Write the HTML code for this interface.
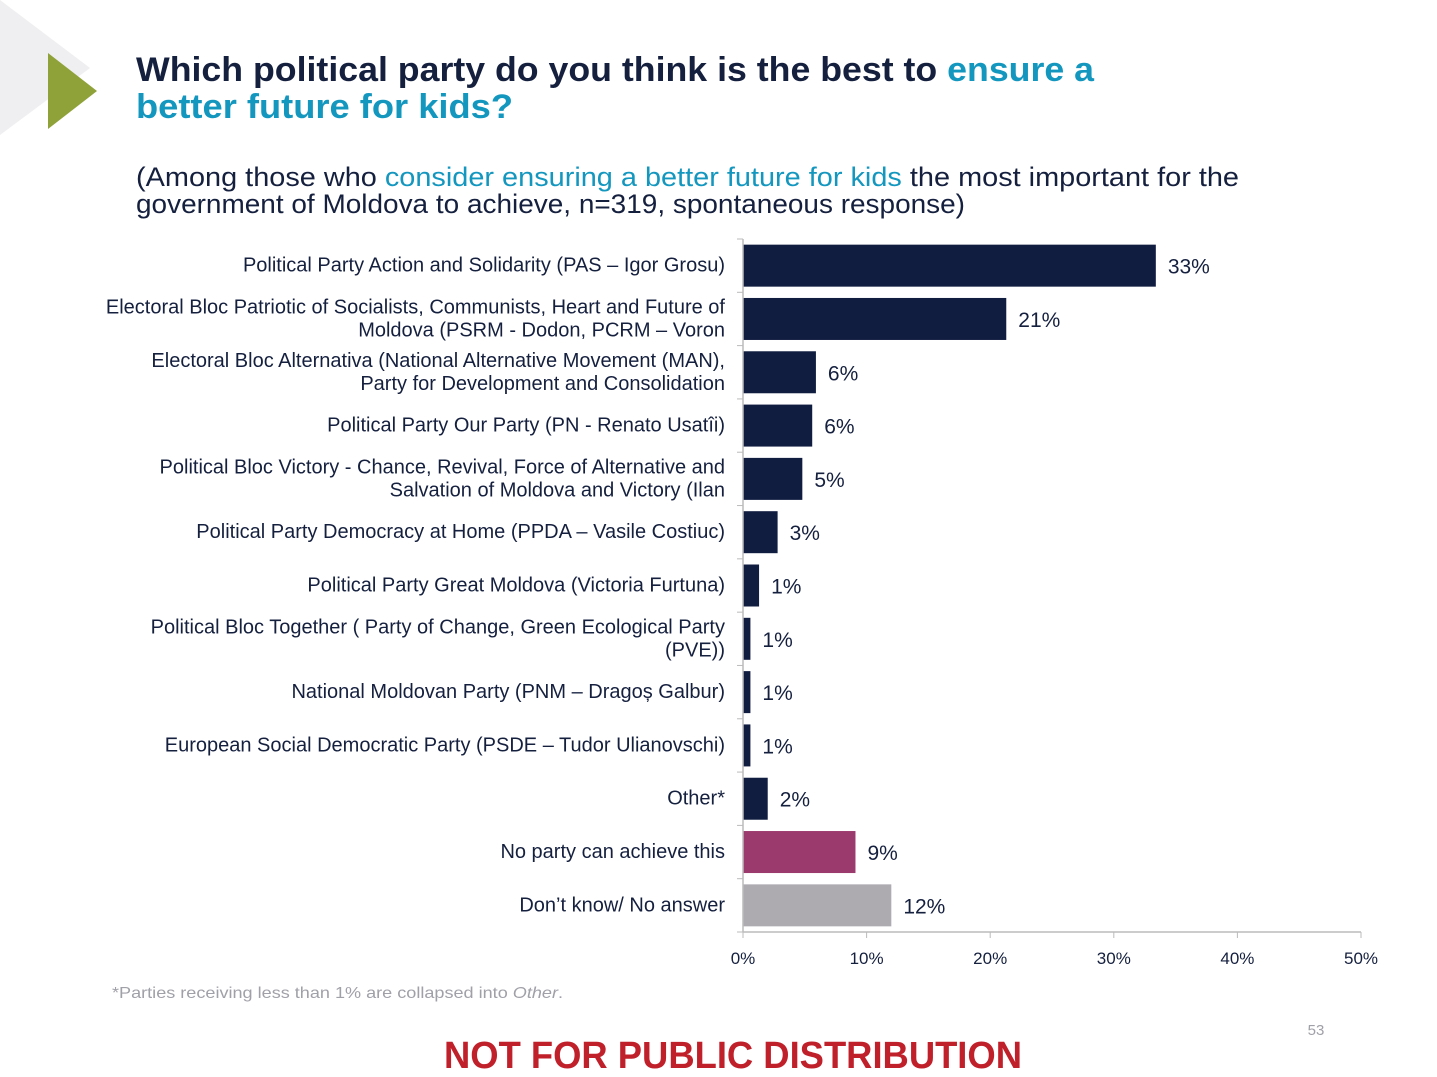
<!DOCTYPE html>
<html><head><meta charset="utf-8"><style>
html,body{margin:0;padding:0;background:#fff;}
svg{display:block;font-family:"Liberation Sans",sans-serif;}
</style></head><body>
<svg id="chart" width="1437" height="1077" viewBox="0 0 1437 1077" xmlns="http://www.w3.org/2000/svg">
<polygon points="0,0 90,68 0,135" fill="#efeff1"/>
<polygon points="48,53 97,91 48,129" fill="#8fa23a"/>
<text x="136" y="81" font-size="34" font-weight="bold" fill="#15203f" textLength="958" lengthAdjust="spacingAndGlyphs">Which political party do you think is the best to <tspan fill="#1497bf">ensure a</tspan></text>
<text x="136" y="118" font-size="34" font-weight="bold" fill="#1497bf" textLength="377" lengthAdjust="spacingAndGlyphs">better future for kids?</text>
<text x="136" y="186" font-size="27" fill="#15203f" textLength="1103" lengthAdjust="spacingAndGlyphs">(Among those who <tspan fill="#1497bf">consider ensuring a better future for kids</tspan> the most important for the</text>
<text x="136" y="213" font-size="27" fill="#15203f" textLength="829" lengthAdjust="spacingAndGlyphs">government of Moldova to achieve, n=319, spontaneous response)</text>
<g id="plot"></g>
<text x="112" y="998" font-size="16" fill="#a0a0a8" textLength="451" lengthAdjust="spacingAndGlyphs">*Parties receiving less than 1% are collapsed into <tspan font-style="italic">Other</tspan>.</text>
<text x="1316" y="1035" font-size="15" fill="#a0a0a8" text-anchor="middle">53</text>
<text x="733" y="1068" font-size="38" font-weight="bold" fill="#c0202a" text-anchor="middle" textLength="578" lengthAdjust="spacingAndGlyphs">NOT FOR PUBLIC DISTRIBUTION</text>
</svg>
<script>
const categories = [
 ["Political Party Action and Solidarity (PAS – Igor Grosu)"],
 ["Electoral Bloc Patriotic of Socialists, Communists, Heart and Future of","Moldova (PSRM - Dodon, PCRM – Voron"],
 ["Electoral Bloc Alternativa (National Alternative Movement (MAN),","Party for Development and Consolidation"],
 ["Political Party Our Party (PN - Renato Usatîi)"],
 ["Political Bloc Victory - Chance, Revival, Force of Alternative and","Salvation of Moldova and Victory (Ilan"],
 ["Political Party Democracy at Home (PPDA – Vasile Costiuc)"],
 ["Political Party Great Moldova (Victoria Furtuna)"],
 ["Political Bloc Together ( Party of Change, Green Ecological Party","(PVE))"],
 ["National Moldovan Party (PNM – Dragoș Galbur)"],
 ["European Social Democratic Party (PSDE – Tudor Ulianovschi)"],
 ["Other*"],
 ["No party can achieve this"],
 ["Don’t know/ No answer"]
];
const values = [33.4,21.3,5.9,5.6,4.8,2.8,1.3,0.6,0.6,0.6,2.0,9.1,12.0];
const valueLabels = ["33%","21%","6%","6%","5%","3%","1%","1%","1%","1%","2%","9%","12%"];
const barKinds = ["party","party","party","party","party","party","party","party","party","party","party","none","dk"];
const xTicks = [0,10,20,30,40,50];
const xTickLabels = ["0%","10%","20%","30%","40%","50%"];

const NS="http://www.w3.org/2000/svg";
const g=document.getElementById('plot');
const x0=743,x1=1361,xMax=50,yTop=239,yBot=932;
const band=(yBot-yTop)/categories.length;
const xs=v=>x0+(x1-x0)*v/xMax;
const yc=i=>yTop+band*(i+0.5);
const colors={party:"#111d40",none:"#9a3a6d",dk:"#adabb0"};
function mk(tag,attrs){const e=document.createElementNS(NS,tag);for(const k in attrs)e.setAttribute(k,attrs[k]);g.appendChild(e);return e;}
values.forEach((v,i)=>{
  const r=mk('rect',{x:x0,y:yc(i)-21,width:xs(v)-x0,height:42,fill:colors[barKinds[i]]});
  
  
  const t=mk('text',{x:xs(v)+12,y:yc(i)+8,'font-size':21,fill:'#15203f'});
  t.textContent=valueLabels[i];
  
  
  const lines=categories[i];
  lines.forEach((ln,j)=>{
    const yy=yc(i)+6+(j-(lines.length-1)/2)*23;
    const lt=mk('text',{x:725,y:yy,'font-size':20,fill:'#15203f','text-anchor':'end'});
    lt.textContent=ln;
    
    
  });
});
for(let i=0;i<=categories.length;i++){
  const y=yTop+band*i;
  const l=mk('line',{x1:737,x2:x0,y1:y,y2:y,stroke:'#bbb','stroke-width':1});
  
  
}
const ya=mk('line',{x1:x0,x2:x0,y1:yTop,y2:yBot,stroke:'#bbb','stroke-width':1.5});


const xa=mk('line',{x1:x0,x2:x1,y1:yBot,y2:yBot,stroke:'#bbb','stroke-width':1.5});


xTicks.forEach((t,i)=>{
  const l=mk('line',{x1:xs(t),x2:xs(t),y1:yBot,y2:yBot+6,stroke:'#bbb','stroke-width':1});
  
  
  const tx=mk('text',{x:xs(t),y:964,'font-size':17,fill:'#15203f','text-anchor':'middle'});
  tx.textContent=xTickLabels[i];
  
  
});
</script>
</body></html>
